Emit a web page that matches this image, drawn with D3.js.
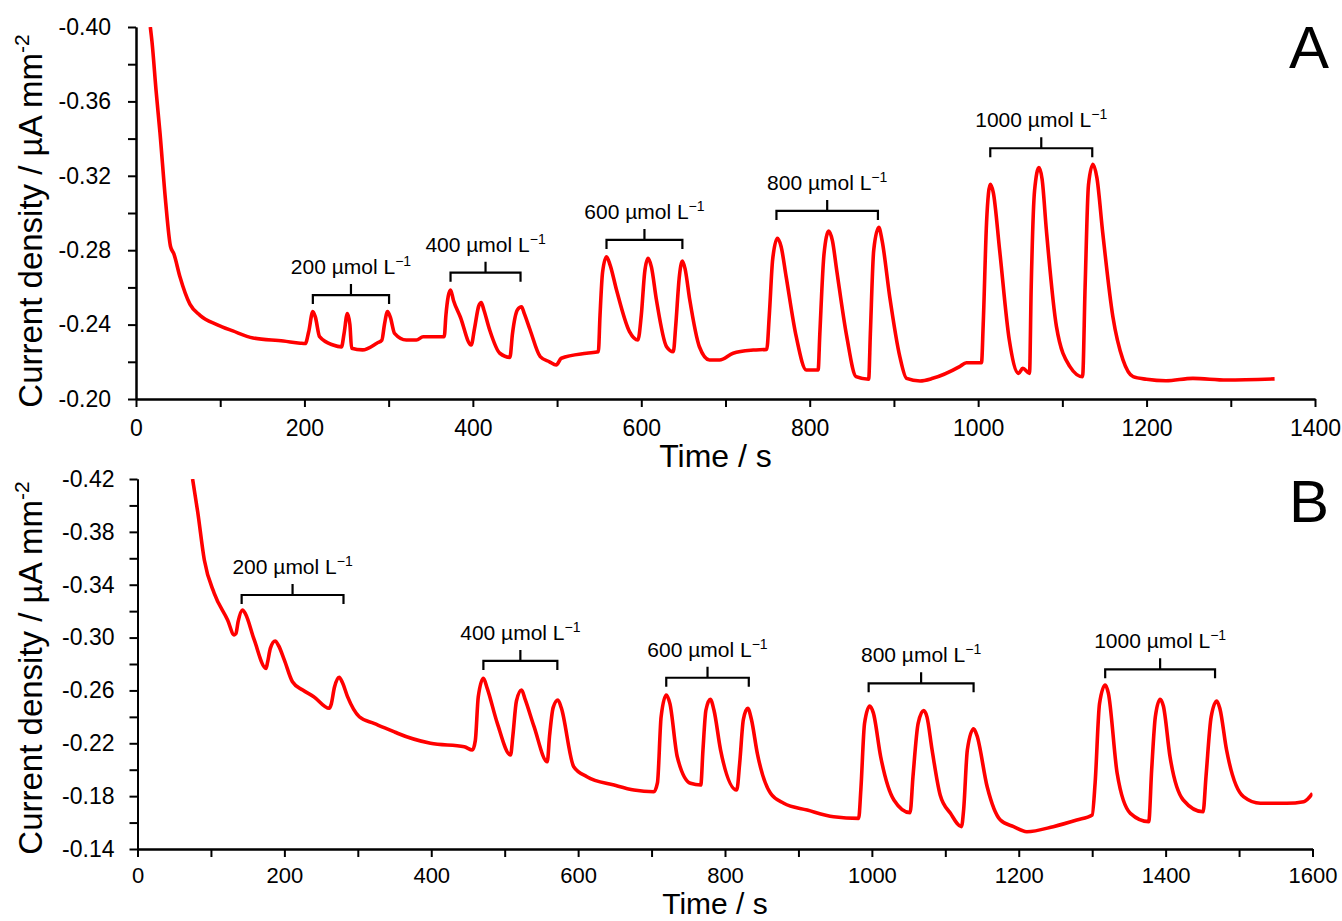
<!DOCTYPE html>
<html>
<head>
<meta charset="utf-8">
<script src="https://cdn.jsdelivr.net/npm/d3@7"></script>
<style>
  body { margin: 0; background: #fff; }
  svg { display: block; font-family: "Liberation Sans", Arial, Helvetica, sans-serif; }
  .axis path, .axis line { stroke: #000; stroke-width: 2; }
  .axis text { font-size: 23px; fill: #000; font-family: "Liberation Sans", Arial, sans-serif; }
</style>
</head>
<body>
<svg id="chart"></svg>
<script>
// ---- Panel A data (time in s, current density in µA mm-2) ----
const timeA = [17, 19, 24, 28.5, 35, 41, 45, 52, 64, 76, 96, 115, 139, 175, 195, 201, 205, 210, 213, 218, 234, 244, 247, 251, 254, 256, 269, 286, 292, 295, 298.7, 302, 307, 321, 333, 341, 366, 368, 373.5, 377, 385, 398, 402, 407, 410, 413, 420, 432, 444, 447, 453, 457.8, 461, 468, 480, 491, 499, 505, 535, 549, 551, 554, 558.7, 563, 570.6, 586, 596, 600, 604, 608, 612, 618, 630, 638, 641, 645, 648.8, 652, 657.6, 669, 681, 693, 709, 733, 749, 752, 756, 761.6, 766, 772, 784, 796, 810, 812, 817, 822.6, 827, 832, 844, 855, 870, 872, 876, 882, 886, 895, 907, 915, 931, 946, 978, 986, 1004, 1006, 1010, 1014.4, 1018, 1025.5, 1037, 1048, 1053, 1061, 1063, 1067, 1072.2, 1076, 1081, 1093, 1109, 1124, 1127, 1131, 1136.3, 1141, 1148, 1160, 1172, 1184, 1200, 1223, 1255, 1295, 1352];
const currentA = [-0.400, -0.392, -0.365, -0.343, -0.307, -0.282, -0.278, -0.266, -0.251, -0.245, -0.240, -0.2366, -0.2328, -0.2312, -0.2300, -0.2298, -0.236, -0.247, -0.244, -0.2335, -0.229, -0.228, -0.235, -0.246, -0.240, -0.2273, -0.2264, -0.230, -0.2317, -0.240, -0.247, -0.244, -0.2353, -0.2317, -0.2317, -0.2335, -0.2335, -0.245, -0.2586, -0.253, -0.2442, -0.229, -0.238, -0.250, -0.2518, -0.248, -0.2371, -0.2246, -0.2224, -0.235, -0.248, -0.2496, -0.246, -0.2371, -0.2228, -0.2200, -0.2183, -0.2219, -0.2246, -0.2254, -0.245, -0.268, -0.2765, -0.272, -0.2586, -0.2362, -0.2317, -0.245, -0.268, -0.2756, -0.271, -0.2532, -0.2281, -0.2254, -0.240, -0.265, -0.2742, -0.270, -0.2532, -0.2281, -0.2210, -0.2210, -0.2246, -0.2263, -0.2267, -0.245, -0.275, -0.2864, -0.282, -0.2658, -0.2335, -0.2156, -0.2156, -0.235, -0.278, -0.2903, -0.285, -0.2694, -0.2335, -0.2120, -0.2106, -0.235, -0.280, -0.2923, -0.285, -0.2550, -0.2228, -0.2111, -0.2097, -0.2111, -0.2174, -0.2195, -0.2195, -0.240, -0.295, -0.3154, -0.311, -0.2801, -0.2317, -0.2138, -0.2165, -0.2138, -0.260, -0.312, -0.3244, -0.318, -0.2909, -0.2389, -0.2174, -0.2120, -0.260, -0.315, -0.3262, -0.319, -0.2891, -0.2442, -0.2210, -0.2120, -0.2106, -0.2098, -0.2111, -0.2102, -0.2108];

// ---- Panel B data ----
const timeB = [75, 82, 91, 104.5, 122.7, 131.7, 134, 137, 143, 147, 159, 175, 177, 181, 187.5, 192, 200, 211, 225, 240, 261, 264, 268, 274.6, 279, 286, 302, 322, 349, 354, 399, 445, 456, 460, 464, 471, 476, 490, 508, 511, 516, 523, 528, 540, 558, 561, 566, 572.5, 577, 594, 612, 649, 676, 703, 708, 713, 720, 725, 735, 753, 767, 770, 774, 780, 785, 794, 816, 820, 825, 831, 836, 844, 862, 880, 912, 948, 982, 985, 990, 997, 1002, 1012, 1030, 1052, 1056, 1063, 1070.5, 1075, 1082, 1093, 1107, 1122, 1125, 1130, 1138.5, 1143, 1157, 1175, 1193, 1211, 1247, 1279, 1300, 1304, 1310, 1317.7, 1322, 1334, 1352, 1377, 1381, 1386, 1392.5, 1397, 1406, 1424, 1451, 1455, 1462, 1469.7, 1474, 1483, 1506, 1529, 1565, 1588, 1600];
const currentB = [-0.420, -0.395, -0.3587, -0.3335, -0.3133, -0.3020, -0.303, -0.312, -0.3209, -0.318, -0.2982, -0.2767, -0.281, -0.292, -0.2974, -0.294, -0.2830, -0.2666, -0.2603, -0.2553, -0.2465, -0.250, -0.262, -0.2700, -0.266, -0.2553, -0.2401, -0.2351, -0.2288, -0.2276, -0.2200, -0.2174, -0.2149, -0.222, -0.255, -0.2692, -0.262, -0.2351, -0.2111, -0.225, -0.252, -0.2603, -0.253, -0.2326, -0.2060, -0.225, -0.247, -0.2528, -0.247, -0.2023, -0.1947, -0.1884, -0.1846, -0.1833, -0.190, -0.240, -0.2565, -0.250, -0.2098, -0.1897, -0.1884, -0.215, -0.245, -0.2533, -0.245, -0.2149, -0.1846, -0.205, -0.238, -0.2465, -0.238, -0.2124, -0.1821, -0.1746, -0.1695, -0.1644, -0.1632, -0.185, -0.235, -0.2482, -0.243, -0.2098, -0.1771, -0.1675, -0.195, -0.235, -0.2447, -0.240, -0.2149, -0.1809, -0.1670, -0.1569, -0.1700, -0.215, -0.2310, -0.226, -0.1871, -0.1619, -0.1569, -0.1531, -0.1569, -0.1619, -0.1657, -0.190, -0.250, -0.2641, -0.258, -0.1973, -0.1670, -0.1607, -0.200, -0.240, -0.2533, -0.248, -0.2098, -0.1771, -0.1682, -0.195, -0.240, -0.2520, -0.246, -0.2149, -0.1796, -0.1746, -0.1746, -0.1758, -0.1821];

// ---- ticks ----
const xTicksA = [0, 200, 400, 600, 800, 1000, 1200, 1400];
const xMinorA = [100, 300, 500, 700, 900, 1100, 1300];
const yTicksA = [-0.40, -0.36, -0.32, -0.28, -0.24, -0.20];
const yMinorA = [-0.38, -0.34, -0.30, -0.26, -0.22];
const xTicksB = [0, 200, 400, 600, 800, 1000, 1200, 1400, 1600];
const xMinorB = [100, 300, 500, 700, 900, 1100, 1300, 1500];
const yTicksB = [-0.42, -0.38, -0.34, -0.30, -0.26, -0.22, -0.18, -0.14];
const yMinorB = [-0.40, -0.36, -0.32, -0.28, -0.24, -0.20, -0.16];

// ---- concentration brackets: label, start time, end time, level ----
const concLabels = ['200', '400', '600', '800', '1000'];
const bracketStartA = [210, 373.5, 558.7, 760.5, 1014.4];
const bracketEndA = [300.5, 456.6, 648.8, 881, 1135.5];
const bracketLevelA = [-0.2559, -0.2679, -0.2855, -0.3011, -0.3348];
const bracketStartB = [141.8, 471, 720, 995.6, 1317.7];
const bracketEndB = [280.5, 571.7, 832.4, 1138.5, 1467.3];
const bracketLevelB = [-0.3322, -0.2823, -0.2696, -0.2654, -0.276];

const svg = d3.select('#chart').attr('width', 1342).attr('height', 921);

function drawPanel(p) {
    const x = d3.scaleLinear().domain(p.xDomain).range([p.left, p.right]);
    const y = d3.scaleLinear().domain(p.yDomain).range([p.bottom, p.top]);
    const g = svg.append('g');

    g.append('clipPath').attr('id', 'clip' + p.id)
        .append('rect')
        .attr('x', p.left).attr('y', p.top)
        .attr('width', p.right - p.left).attr('height', p.bottom - p.top);

    // minor ticks
    g.append('g').attr('class', 'axis')
        .attr('transform', `translate(0,${p.bottom})`)
        .call(d3.axisBottom(x).tickValues(p.xMinor).tickSize(8).tickSizeOuter(0).tickFormat(''));
    g.append('g').attr('class', 'axis')
        .attr('transform', `translate(${p.left},0)`)
        .call(d3.axisLeft(y).tickValues(p.yMinor).tickSize(8).tickSizeOuter(0).tickFormat(''));

    // major ticks
    const xAxis = g.append('g').attr('class', 'axis')
        .attr('transform', `translate(0,${p.bottom})`)
        .call(d3.axisBottom(x).tickValues(p.xTicks).tickSize(8).tickSizeOuter(0).tickPadding(p.xPad).tickFormat(d => d));
    xAxis.selectAll('text').style('font-size', p.xFont + 'px');
    g.append('g').attr('class', 'axis')
        .attr('transform', `translate(${p.left},0)`)
        .call(d3.axisLeft(y).tickValues(p.yTicks).tickSize(8).tickSizeOuter(0).tickPadding(p.yPad).tickFormat(d => d.toFixed(2)));

    // trace
    const pts = p.time.map((t, i) => [t, p.current[i]]);
    g.append('path')
        .datum(pts)
        .attr('clip-path', `url(#clip${p.id})`)
        .attr('fill', 'none')
        .attr('stroke', '#ff0000')
        .attr('stroke-width', 3.6)
        .attr('stroke-linejoin', 'round')
        .attr('d', d3.line().x(d => x(d[0])).y(d => y(d[1])).curve(d3.curveMonotoneX));

    // brackets
    concLabels.forEach((c, i) => {
        const x0 = x(p.bStart[i]), x1 = x(p.bEnd[i]), yb = y(p.bLevel[i]);
        const xm = (x0 + x1) / 2;
        g.append('path')
            .attr('fill', 'none').attr('stroke', '#000').attr('stroke-width', 2.2)
            .attr('d', `M${x0},${yb + 9}L${x0},${yb}L${x1},${yb}L${x1},${yb + 9}M${xm},${yb}L${xm},${yb - 11}`);
        const t = g.append('text')
            .attr('x', xm).attr('y', yb - 21)
            .attr('text-anchor', 'middle')
            .attr('font-size', 21);
        t.append('tspan').text(c + ' µmol L');
        t.append('tspan').attr('font-size', 14).attr('dy', -8).text('−1');
    });

    // axis titles
    g.append('text')
        .attr('x', (p.left + p.right) / 2 - 10).attr('y', p.xTitleY)
        .attr('text-anchor', 'middle').attr('font-size', p.xTitleFont)
        .text('Time / s');
    const yt = g.append('text')
        .attr('transform', `translate(42,${p.yTitleY}) rotate(-90)`)
        .attr('text-anchor', 'middle').attr('font-size', 33);
    yt.append('tspan').text('Current density / µA mm');
    yt.append('tspan').attr('font-size', 21).attr('dy', -13).text('-2');

    // panel letter
    g.append('text')
        .attr('x', 1309).attr('y', p.letterY)
        .attr('text-anchor', 'middle').attr('font-size', 60)
        .text(p.id);
}

drawPanel({
    id: 'A', time: timeA, current: currentA,
    xDomain: [0, 1400], yDomain: [-0.20, -0.40],
    left: 136, right: 1315, top: 27, bottom: 399,
    xTicks: xTicksA, xMinor: xMinorA, yTicks: yTicksA, yMinor: yMinorA,
    xPad: 13, xFont: 23, yPad: 17,
    bStart: bracketStartA, bEnd: bracketEndA, bLevel: bracketLevelA,
    xTitleY: 467, xTitleFont: 32, yTitleY: 221, letterY: 68
});

drawPanel({
    id: 'B', time: timeB, current: currentB,
    xDomain: [0, 1600], yDomain: [-0.14, -0.42],
    left: 137.5, right: 1312.5, top: 479, bottom: 849,
    xTicks: xTicksB, xMinor: xMinorB, yTicks: yTicksB, yMinor: yMinorB,
    xPad: 10, xFont: 22, yPad: 15,
    bStart: bracketStartB, bEnd: bracketEndB, bLevel: bracketLevelB,
    xTitleY: 914, xTitleFont: 30, yTitleY: 668, letterY: 522
});
</script>
</body>
</html>
